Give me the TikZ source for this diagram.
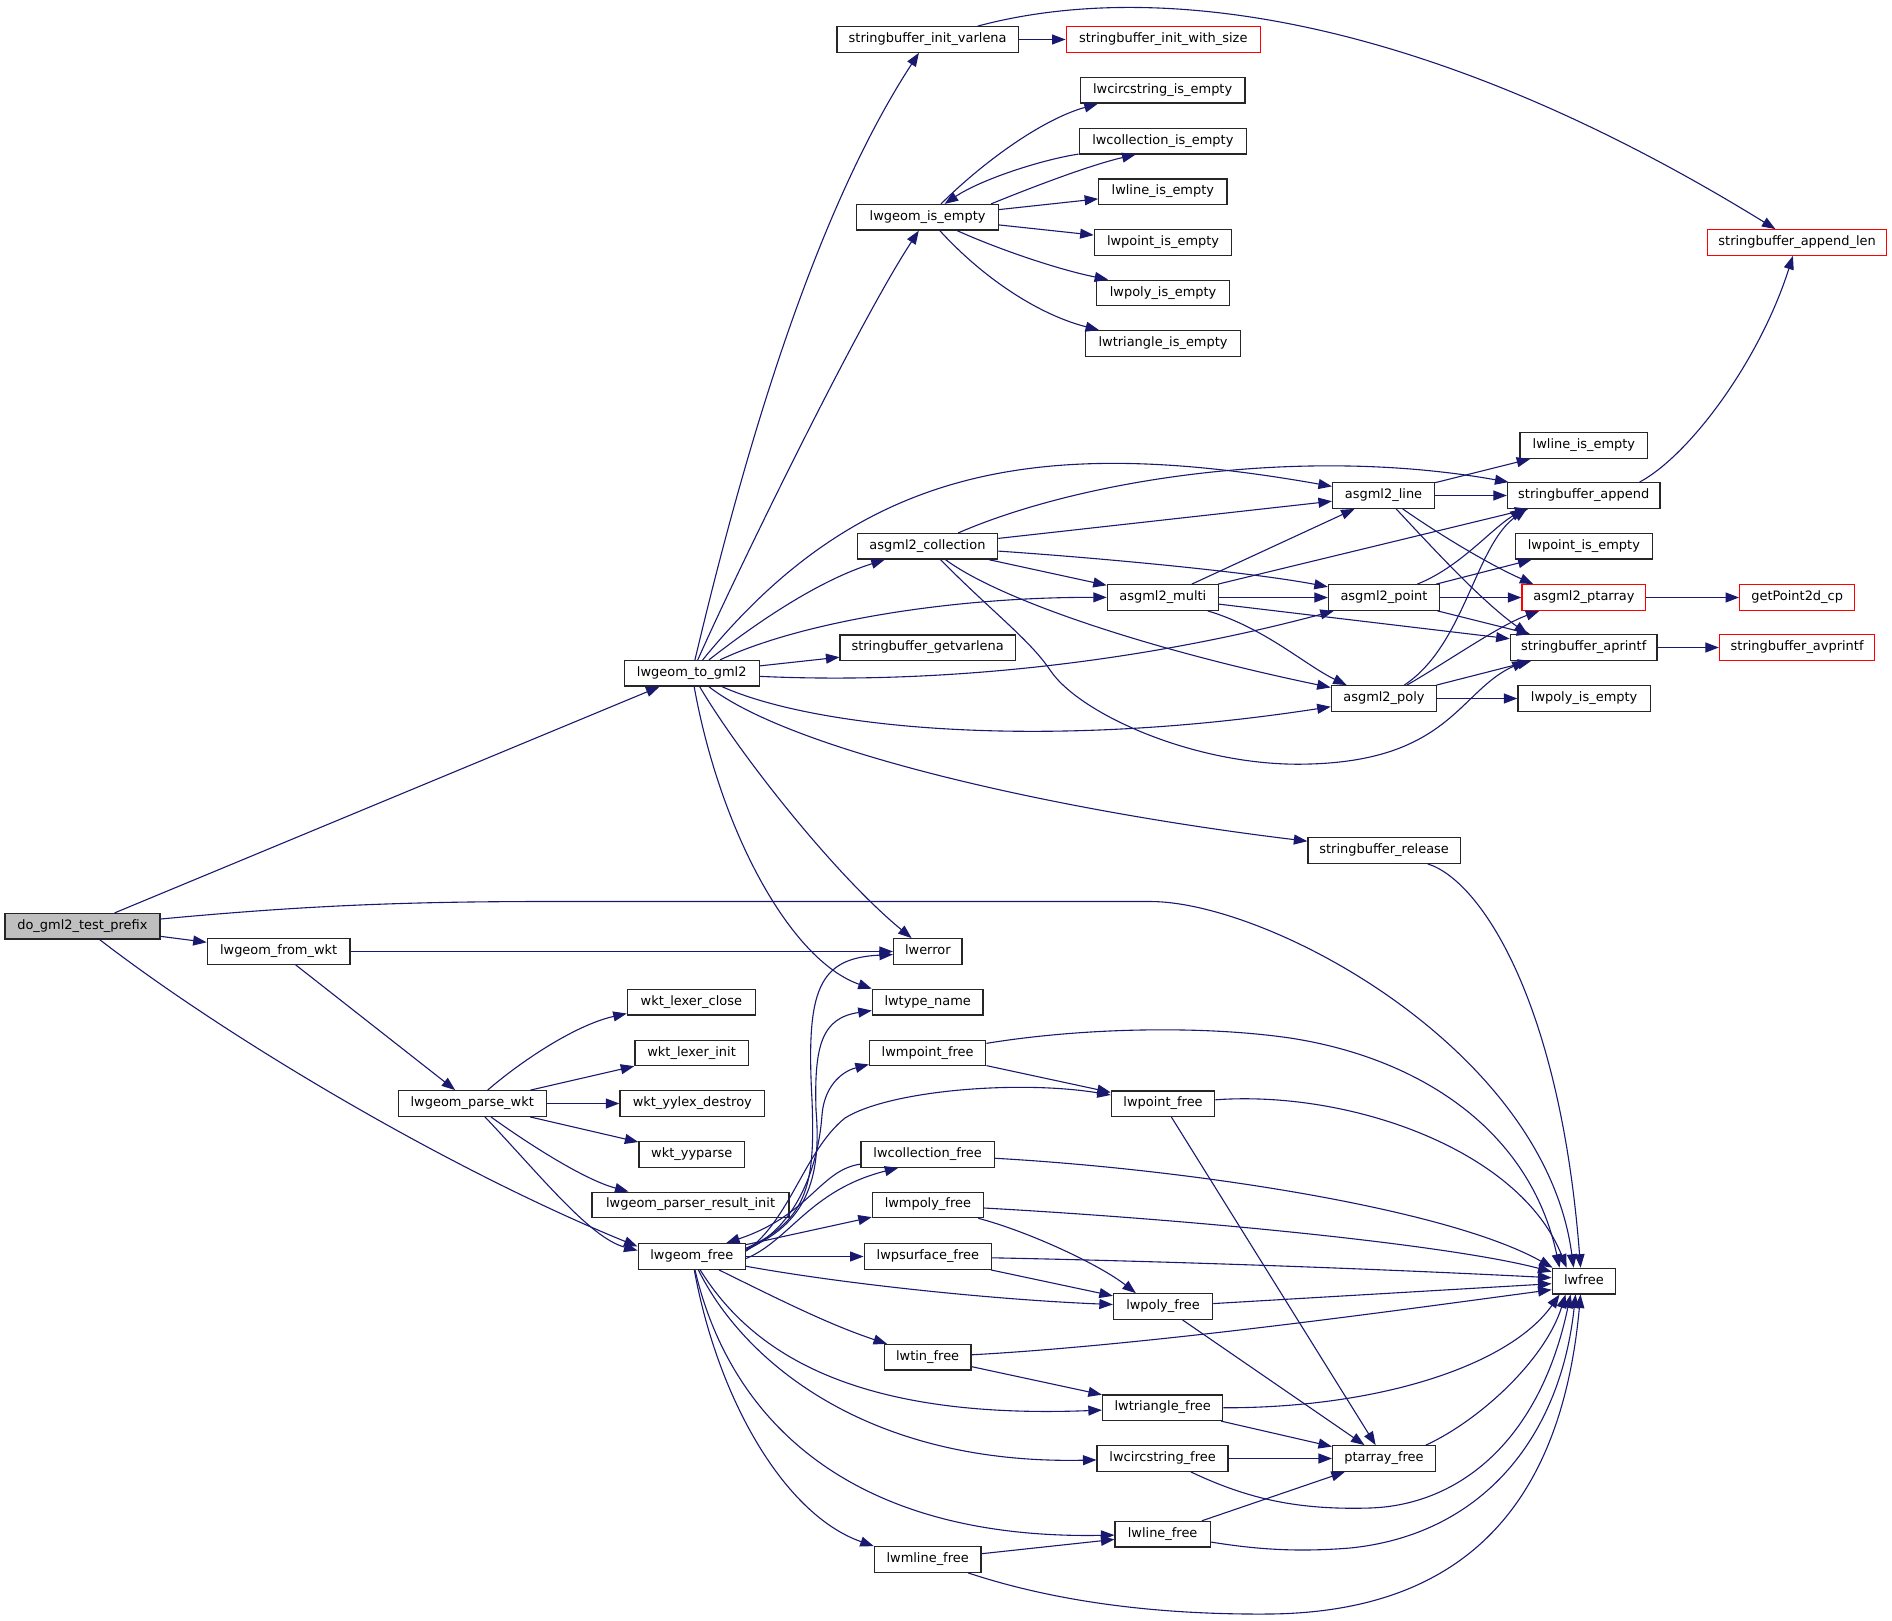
\documentclass[tikz,border=0pt]{standalone}
\usepackage{fontspec}
\setmainfont{DejaVu Sans}
\usetikzlibrary{arrows.meta}
\definecolor{edgec}{HTML}{191970}
\definecolor{redb}{HTML}{FF0000}
\definecolor{grayf}{HTML}{BFBFBF}
\begin{document}
\begin{tikzpicture}[x=1pt,y=-1pt,
  nb/.style={draw=black!85, line width=1.3pt, fill=white, rectangle, minimum height=25.5pt,
     inner sep=0pt, text height=9.9pt, text depth=3.9pt, font=\fontsize{12.95pt}{15pt}\selectfont},
  rednode/.style={nb, draw=redb},
  rootnode/.style={nb, fill=grayf},
  cl/.style={draw=edgec, line width=1.1pt, -{Triangle[length=13.5pt,width=10pt]}}]
\useasboundingbox (0,0) rectangle (1892,1621);
\fill[white] (0,0) rectangle (1892,1621);
% nodes
\node[rootnode, minimum width=155pt] (dogml) at (82.4,926.3) {do\_gml2\_test\_prefix};
\node[nb, minimum width=135pt] (togml) at (691.75,673.3) {lwgeom\_to\_gml2};
\node[nb, minimum width=142.7pt] (fromwkt) at (278.65,951.5) {lwgeom\_from\_wkt};
\node[nb, minimum width=148.1pt] (parsewkt) at (472.25,1103.5) {lwgeom\_parse\_wkt};
\node[nb, minimum width=107.3pt] (gfree) at (691.85,1256.5) {lwgeom\_free};
\node[nb, minimum width=181.5pt] (initvarlena) at (927.65,39.5) {stringbuffer\_init\_varlena};
\node[rednode, minimum width=194.2pt] (initwithsize) at (1163.3,39.5) {stringbuffer\_init\_with\_size};
\node[nb, minimum width=141.6pt] (isempty) at (927.6,217.3) {lwgeom\_is\_empty};
\node[nb, minimum width=164.5pt] (circempty) at (1162.65,90.4) {lwcircstring\_is\_empty};
\node[nb, minimum width=167.3pt] (collempty) at (1162.85,141.2) {lwcollection\_is\_empty};
\node[nb, minimum width=128.1pt] (lineempty) at (1162.85,191.9) {lwline\_is\_empty};
\node[nb, minimum width=137.5pt] (pointempty) at (1163.05,242.5) {lwpoint\_is\_empty};
\node[nb, minimum width=132.6pt] (polyempty) at (1163.1,293) {lwpoly\_is\_empty};
\node[nb, minimum width=154.7pt] (triempty) at (1163.05,343.5) {lwtriangle\_is\_empty};
\node[rednode, minimum width=179.4pt] (appendlen) at (1797.1,242.5) {stringbuffer\_append\_len};
\node[nb, minimum width=140.3pt] (collection) at (927.45,546.3) {asgml2\_collection};
\node[nb, minimum width=101.9pt] (line) at (1383.55,495.5) {asgml2\_line};
\node[nb, minimum width=152.4pt] (append) at (1583.7,495.5) {stringbuffer\_append};
\node[nb, minimum width=127.8pt] (lineempty2) at (1583.9,445.5) {lwline\_is\_empty};
\node[nb, minimum width=110.9pt] (multi) at (1162.85,597.5) {asgml2\_multi};
\node[nb, minimum width=110.9pt] (point) at (1383.95,597.5) {asgml2\_point};
\node[nb, minimum width=137.4pt] (pointempty2) at (1583.9,546.3) {lwpoint\_is\_empty};
\node[rednode, minimum width=123.8pt] (ptarray) at (1583.9,597.5) {asgml2\_ptarray};
\node[rednode, minimum width=114.9pt] (getpoint) at (1797.15,597.5) {getPoint2d\_cp};
\node[nb, minimum width=146.8pt] (aprintf) at (1583.7,647.5) {stringbuffer\_aprintf};
\node[rednode, minimum width=155.2pt] (avprintf) at (1797.1,647.5) {stringbuffer\_avprintf};
\node[nb, minimum width=105.3pt] (poly) at (1383.95,698.5) {asgml2\_poly};
\node[nb, minimum width=132.2pt] (polyempty2) at (1584.1,698.5) {lwpoly\_is\_empty};
\node[nb, minimum width=175.1pt] (getvarlena) at (927.65,647.6) {stringbuffer\_getvarlena};
\node[nb, minimum width=152.3pt] (release) at (1384.15,850.5) {stringbuffer\_release};
\node[nb, minimum width=68.5pt] (lwerror) at (927.85,951.5) {lwerror};
\node[nb, minimum width=110.5pt] (typename) at (927.65,1002.1) {lwtype\_name};
\node[nb, minimum width=128pt] (lexerclose) at (691.35,1002.1) {wkt\_lexer\_close};
\node[nb, minimum width=113.4pt] (lexerinit) at (691.6,1053) {wkt\_lexer\_init};
\node[nb, minimum width=144.6pt] (yylexdestroy) at (692.3,1103.5) {wkt\_yylex\_destroy};
\node[nb, minimum width=105.6pt] (yyparse) at (691.8,1154.4) {wkt\_yyparse};
\node[nb, minimum width=197pt] (parserinit) at (690.6,1204.9) {lwgeom\_parser\_result\_init};
\node[nb, minimum width=116.3pt] (mpointfree) at (927.65,1053) {lwmpoint\_free};
\node[nb, minimum width=103.3pt] (pointfree) at (1163.05,1103.6) {lwpoint\_free};
\node[nb, minimum width=133.4pt] (collfree) at (927.6,1154.4) {lwcollection\_free};
\node[nb, minimum width=110.9pt] (mpolyfree) at (927.85,1204.9) {lwmpoly\_free};
\node[nb, minimum width=127.3pt] (psurffree) at (927.85,1256.5) {lwpsurface\_free};
\node[nb, minimum width=99.1pt] (polyfree) at (1163.05,1306.5) {lwpoly\_free};
\node[nb, minimum width=86.9pt] (tinfree) at (927.65,1357.2) {lwtin\_free};
\node[nb, minimum width=120.3pt] (trifree) at (1162.65,1407.7) {lwtriangle\_free};
\node[nb, minimum width=131pt] (circfree) at (1162.6,1458.5) {lwcircstring\_free};
\node[nb, minimum width=95.1pt] (linefree) at (1162.65,1534.2) {lwline\_free};
\node[nb, minimum width=106.5pt] (mlinefree) at (927.65,1559.5) {lwmline\_free};
\node[nb, minimum width=102.7pt] (ptfree) at (1383.95,1458.5) {ptarray\_free};
\node[nb, minimum width=63.3pt] (lwfree) at (1583.85,1281.1) {lwfree};
% edges from do_gml2_test_prefix
\draw[cl] (dogml) -- (togml);
\draw[cl] (dogml) .. controls (300,906) and (400,901.5) .. (550,901.5) -- (1150,901.5) .. controls (1270,901.5) and (1545,1050) .. ([shift={(22,0)}]lwfree.north west);
\draw[cl] (dogml) -- (fromwkt);
\draw[cl] (dogml) .. controls (230,1040) and (450,1170) .. ([shift={(0,-10)}]gfree.west);
% lwgeom_from_wkt / parse
\draw[cl] (fromwkt) -- (lwerror);
\draw[cl] (fromwkt) -- (parsewkt);
\draw[cl] (parsewkt) .. controls (520,1062) and (575,1025) .. ([shift={(0,-2)}]lexerclose.south west);
\draw[cl] (parsewkt) -- (lexerinit);
\draw[cl] (parsewkt) -- (yylexdestroy);
\draw[cl] (parsewkt) -- (yyparse);
\draw[cl] (parsewkt) .. controls (530,1145) and (585,1180) .. ([shift={(37,0)}]parserinit.north west);
\draw[cl] (parsewkt) .. controls (540,1175) and (590,1238) .. ([shift={(0,-6)}]gfree.west);
% lwgeom_to_gml2
\draw[cl] (togml) .. controls (740,470) and (810,220) .. (initvarlena);
\draw[cl] (togml) .. controls (740,565) and (860,320) .. (isempty);
\draw[cl] (togml) .. controls (859,468) and (1036,434) .. (line);
\draw[cl] (togml) .. controls (760,620) and (820,580) .. (collection);
\draw[cl] (togml) .. controls (800,622) and (950,597) .. (multi);
\draw[cl] (togml) -- (getvarlena);
\draw[cl] (togml) .. controls (950,685) and (1150,660) .. (point);
\draw[cl] (togml) .. controls (820,730) and (1050,750) .. (poly);
\draw[cl] (togml) .. controls (790,750) and (1050,810) .. (release);
\draw[cl] (togml) .. controls (740,755) and (835,875) .. (lwerror);
\draw[cl] (togml) .. controls (720,830) and (790,960) .. (typename.north west);
% asgml2_collection
\draw[cl] (collection) .. controls (1080,480) and (1300,445) .. (append);
\draw[cl] (collection) -- (line);
\draw[cl] (collection) -- (multi);
\draw[cl] (collection) .. controls (1100,558) and (1250,572) .. (point);
\draw[cl] (collection) .. controls (1000,600) and (1150,650) .. (poly);
\draw[cl] (collection) .. controls (990,610) and (1030,640) .. (1050,670) .. controls (1080,715) and (1200,768) .. (1310,764) .. controls (1450,760) and (1460,690) .. ([shift={(16,0)}]aprintf.south west);
% asgml2_multi
\draw[cl] (multi) -- (line);
\draw[cl] (multi) -- (append);
\draw[cl] (multi) -- (point);
\draw[cl] (multi) -- (aprintf);
\draw[cl] (multi) .. controls (1265,628) and (1305,665) .. ([shift={(16,0)}]poly.north west);
% asgml2_line
\draw[cl] (line) -- (lineempty2);
\draw[cl] (line) -- (append);
\draw[cl] (line) .. controls (1440,535) and (1490,565) .. ([shift={(12,0)}]ptarray.north west);
\draw[cl] (line) .. controls (1430,545) and (1480,600) .. ([shift={(18,0)}]aprintf.north west);
% asgml2_point
\draw[cl] (point) .. controls (1460,567) and (1490,530) .. ([shift={(17,0)}]append.south west);
\draw[cl] (point) -- (pointempty2);
\draw[cl] (point) -- (ptarray);
\draw[cl] (point) -- (aprintf);
% asgml2_poly
\draw[cl] (poly) .. controls (1465,645) and (1475,545) .. ([shift={(20,0)}]append.south west);
\draw[cl] (poly) .. controls (1450,660) and (1500,625) .. ([shift={(18,0)}]ptarray.south west);
\draw[cl] (poly) -- (aprintf);
\draw[cl] (poly) -- (polyempty2);
% misc
\draw[cl] (ptarray) -- (getpoint);
\draw[cl] (aprintf) -- (avprintf);
\draw[cl] ([shift={(-21,0)}]append.north east) .. controls (1690,455) and (1760,360) .. (appendlen);
\draw[cl] (initvarlena) -- (initwithsize);
\draw[cl] (initvarlena) .. controls (1150,-20) and (1420,10) .. (appendlen);
% lwgeom_is_empty
\draw[cl] (isempty) .. controls (980,165) and (1040,120) .. ([shift={(18,0)}]circempty.south west);
\draw[cl] (collempty) .. controls (1040,160) and (980,180) .. ([shift={(17,0)}]isempty.north);
\draw[cl] ([shift={(-8,0)}]isempty.north east) .. controls (1030,188) and (1090,165) .. ([shift={(57,0)}]collempty.south west);
\draw[cl] (isempty) -- (lineempty);
\draw[cl] (isempty) -- (pointempty);
\draw[cl] (isempty) .. controls (1000,250) and (1060,270) .. ([shift={(12,0)}]polyempty.north west);
\draw[cl] (isempty) .. controls (985,280) and (1040,315) .. ([shift={(14,0)}]triempty.north west);
% stringbuffer_release
\draw[cl] (release) .. controls (1480,880) and (1560,1000) .. ([shift={(29,0)}]lwfree.north west);
% lwgeom_free
\draw[cl] ([shift={(0,5)}]gfree.north east) .. controls (810,1220) and (815,1180) .. (812,1100) .. controls (806,990) and (818,958) .. ([shift={(0,3)}]lwerror.west);
\draw[cl] ([shift={(0,6)}]gfree.north east) .. controls (805,1225) and (822,1180) .. (816,1110) .. controls (814,1045) and (822,1018) .. ([shift={(0,-5)}]typename.south west);
\draw[cl] ([shift={(0,7)}]gfree.north east) .. controls (795,1228) and (818,1170) .. (822,1115) .. controls (824,1088) and (840,1072) .. ([shift={(0,-2)}]mpointfree.south west);
\draw[cl] ([shift={(0,8)}]gfree.north east) .. controls (790,1220) and (805,1150) .. (845,1118) .. controls (890,1090) and (1020,1080) .. (pointfree);
\draw[cl] (collfree) .. controls (820,1170) and (810,1215) .. ([shift={(-20,0)}]gfree.north east);
\draw[cl] ([shift={(0,2)}]gfree.east) .. controls (790,1240) and (810,1190) .. ([shift={(38,0)}]collfree.south west);
\draw[cl] (gfree) -- (mpolyfree);
\draw[cl] (gfree) -- (psurffree);
\draw[cl] (gfree) .. controls (850,1285) and (1000,1300) .. (polyfree);
\draw[cl] (gfree) .. controls (780,1300) and (830,1325) .. (tinfree);
\draw[cl] (gfree) .. controls (750,1350) and (850,1420) .. (trifree);
\draw[cl] (gfree) .. controls (740,1355) and (860,1465) .. (circfree);
\draw[cl] (gfree) .. controls (730,1420) and (850,1540) .. (linefree);
\draw[cl] (gfree) .. controls (718,1400) and (785,1515) .. (mlinefree.north west);
% free functions
\draw[cl] (mpointfree) .. controls (1080,1028) and (1200,1025) .. (1290,1038) .. controls (1420,1058) and (1530,1130) .. ([shift={(8,0)}]lwfree.north west);
\draw[cl] (mpointfree) -- (pointfree);
\draw[cl] (pointfree) .. controls (1350,1090) and (1520,1150) .. ([shift={(15,0)}]lwfree.north west);
\draw[cl] (pointfree) -- (ptfree);
\draw[cl] (collfree) .. controls (1200,1170) and (1450,1210) .. ([shift={(1,0)}]lwfree.north west);
\draw[cl] (mpolyfree) .. controls (1200,1220) and (1450,1245) .. ([shift={(0,4)}]lwfree.north west);
\draw[cl] (mpolyfree) .. controls (1030,1232) and (1100,1265) .. ([shift={(23,0)}]polyfree.north west);
\draw[cl] (psurffree) .. controls (1200,1262) and (1400,1270) .. ([shift={(0,10)}]lwfree.north west);
\draw[cl] (psurffree) -- (polyfree);
\draw[cl] (polyfree) -- ([shift={(0,16)}]lwfree.north west);
\draw[cl] (polyfree) -- (ptfree);
\draw[cl] (tinfree) .. controls (1150,1345) and (1400,1310) .. ([shift={(0,22)}]lwfree.north west);
\draw[cl] (tinfree) -- (trifree);
\draw[cl] (trifree) .. controls (1380,1408) and (1510,1365) .. ([shift={(8,0)}]lwfree.south west);
\draw[cl] (trifree) -- (ptfree);
\draw[cl] (circfree) -- (ptfree);
\draw[cl] (circfree) .. controls (1250,1500) and (1300,1510) .. (1370,1508) .. controls (1460,1505) and (1540,1440) .. ([shift={(19,0)}]lwfree.south west);
\draw[cl] (linefree) -- (ptfree);
\draw[cl] (linefree) .. controls (1260,1550) and (1300,1552) .. (1350,1548) .. controls (1480,1535) and (1560,1440) .. ([shift={(24,0)}]lwfree.south west);
\draw[cl] (mlinefree) -- (linefree);
\draw[cl] (mlinefree) .. controls (1050,1600) and (1150,1615) .. (1270,1614) .. controls (1450,1612) and (1560,1520) .. ([shift={(29,0)}]lwfree.south west);
\draw[cl] ([shift={(-10,0)}]ptfree.north east) .. controls (1480,1420) and (1545,1360) .. ([shift={(14,0)}]lwfree.south west);
\end{tikzpicture}
\end{document}
